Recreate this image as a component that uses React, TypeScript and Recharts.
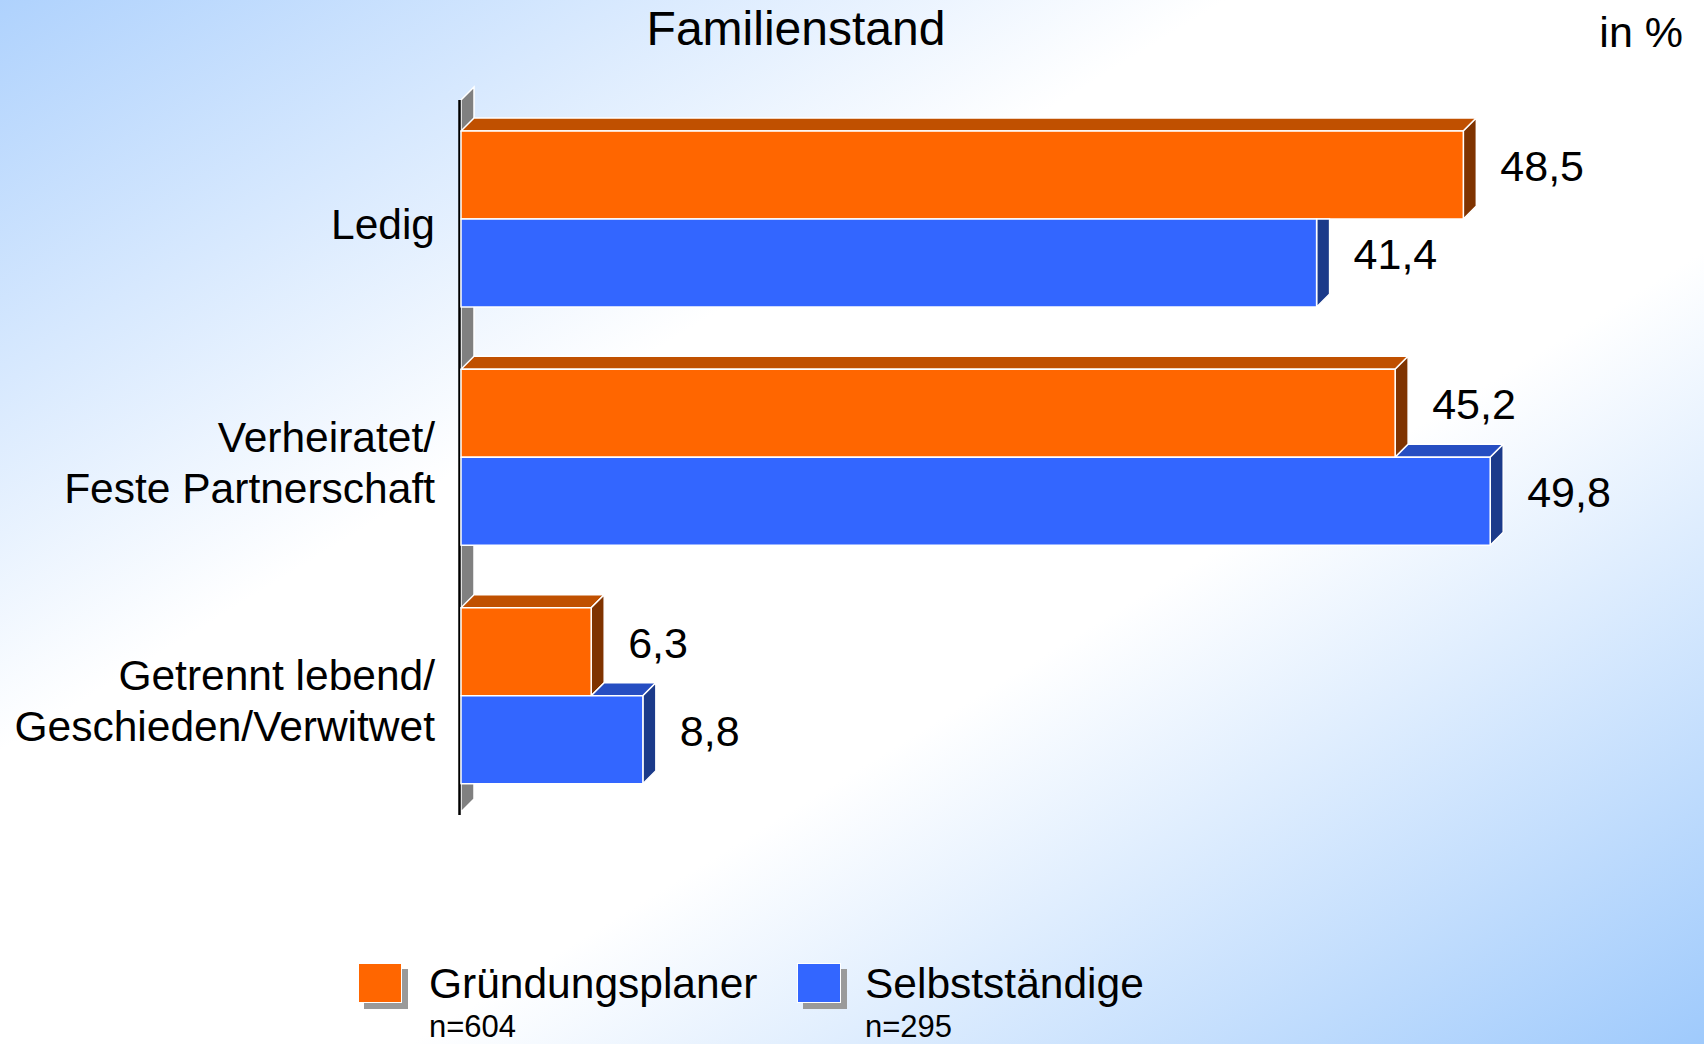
import { Bar, BarChart, Customized, LabelList, Legend, XAxis, YAxis } from "recharts";

const categories = [
  "Ledig",
  "Verheiratet/\nFeste Partnerschaft",
  "Getrennt lebend/\nGeschieden/Verwitwet",
];
const gruendungsplaner = [48.5, 45.2, 6.3];
const selbststaendige = [41.4, 49.8, 8.8];
const seriesNames = ["Gründungsplaner", "Selbstständige"];
const sampleSizes = ["n=604", "n=295"];

const data = categories.map((name, i) => ({
  name,
  gp: gruendungsplaner[i],
  ss: selbststaendige[i],
}));

const FONT = '"Liberation Sans", Arial, Helvetica, sans-serif';
const D = 13; // 3d depth
const PLOT_LEFT = 461;
const PLOT_TOP = 100;
const PLOT_BOTTOM = 815;

const ORANGE = { front: "#ff6600", top: "#c05000", side: "#7f3300" };
const BLUE = { front: "#3366ff", top: "#264ec2", side: "#1b3a8a" };

const pts = (arr: number[][]) => arr.map((p) => p.join(",")).join(" ");

const OrangeShape = (props: any) => {
  const { x, y, width: w, height: h } = props;
  return (
    <g stroke="#fff" strokeWidth={1.5} strokeLinejoin="round">
      <polygon
        points={pts([[x, y], [x + D, y - D], [x + w + D, y - D], [x + w, y]])}
        fill={ORANGE.top}
      />
      <polygon
        points={pts([[x + w, y], [x + w + D, y - D], [x + w + D, y + h - D], [x + w, y + h]])}
        fill={ORANGE.side}
      />
      <rect x={x} y={y} width={w} height={h} fill={ORANGE.front} />
    </g>
  );
};

// blue bar sits under the orange one, so hide what the orange box covers
const BlueShape = (props: any) => {
  const { x, y, width: w, height: h, payload } = props;
  const ow = (w * payload.gp) / payload.ss;
  const longer = ow < w;
  return (
    <g stroke="#fff" strokeWidth={1.5} strokeLinejoin="round">
      {longer && (
        <polygon
          points={pts([[x + ow, y], [x + ow + D, y - D], [x + w + D, y - D], [x + w, y]])}
          fill={BLUE.top}
        />
      )}
      <polygon
        points={
          longer
            ? pts([[x + w, y], [x + w + D, y - D], [x + w + D, y + h - D], [x + w, y + h]])
            : pts([[x + w, y], [x + w + D, y], [x + w + D, y + h - D], [x + w, y + h]])
        }
        fill={BLUE.side}
      />
      <rect x={x} y={y} width={w} height={h} fill={BLUE.front} />
    </g>
  );
};

const ValueLabel = (props: any) => {
  const { x, y, width, height, value } = props;
  return (
    <text
      x={x + width + D + 24}
      y={y + height / 2 - 9}
      dominantBaseline="central"
      fontFamily={FONT}
      fontSize={43}
      fill="#000"
    >
      {Number(value).toFixed(1).replace(".", ",")}
    </text>
  );
};

const CategoryTick = (props: any) => {
  const { x, y, payload } = props;
  const lines = String(payload.value).split("\n");
  return (
    <g>
      {lines.map((line, i) => (
        <text
          key={i}
          x={x}
          y={y + 5 + (i - (lines.length - 1) / 2) * 51}
          textAnchor="end"
          dominantBaseline="central"
          fontFamily={FONT}
          fontSize={42.5}
          fill="#000"
        >
          {line}
        </text>
      ))}
    </g>
  );
};

const Wall = () => (
  <g>
    <polygon
      points={pts([
        [PLOT_LEFT, PLOT_TOP],
        [PLOT_LEFT + D, PLOT_TOP - D],
        [PLOT_LEFT + D, PLOT_BOTTOM - 16],
        [PLOT_LEFT, PLOT_BOTTOM - 3],
      ])}
      fill="#808080"
      stroke="#fff"
      strokeWidth={1.5}
    />
    <line
      x1={PLOT_LEFT - 1.5}
      y1={PLOT_TOP}
      x2={PLOT_LEFT - 1.5}
      y2={PLOT_BOTTOM}
      stroke="#000"
      strokeWidth={2.5}
    />
  </g>
);

const legendX = [358, 797];
const legendTextX = [429, 865];

const LegendContent = (props: any) => {
  const { payload } = props;
  return (
    <div style={{ position: "relative", width: 1704, height: 1044 }}>
      {(payload || []).map((entry: any, i: number) => (
        <div key={entry.value}>
          <div
            style={{
              position: "absolute",
              left: legendX[i] + 6,
              top: 969,
              width: 44,
              height: 40,
              background: "#9a9a9a",
            }}
          />
          <div
            style={{
              position: "absolute",
              left: legendX[i],
              top: 963,
              width: 44,
              height: 40,
              boxSizing: "border-box",
              border: "1.5px solid #fff",
              background: entry.color,
            }}
          />
          <div
            style={{
              position: "absolute",
              left: legendTextX[i],
              top: 963,
              fontFamily: FONT,
              fontSize: 42.5,
              lineHeight: 1,
              color: "#000",
              whiteSpace: "nowrap",
            }}
          >
            {entry.value}
          </div>
          <div
            style={{
              position: "absolute",
              left: legendTextX[i],
              top: 1011,
              fontFamily: FONT,
              fontSize: 31,
              lineHeight: 1,
              color: "#000",
              whiteSpace: "nowrap",
            }}
          >
            {sampleSizes[i]}
          </div>
        </div>
      ))}
    </div>
  );
};

export default function App() {
  return (
    <div
      style={{
        position: "absolute",
        left: 0,
        top: 0,
        width: 1704,
        height: 1044,
        overflow: "hidden",
        background:
          "linear-gradient(to bottom right, #afd2fd 0%, #ffffff 36%, #ffffff 62%, #9fcafc 100%)",
      }}
    >
      <div
        style={{
          position: "absolute",
          left: 0,
          width: 1592,
          top: 5,
          textAlign: "center",
          fontFamily: FONT,
          fontSize: 48,
          lineHeight: 1,
          color: "#000",
        }}
      >
        Familienstand
      </div>
      <div
        style={{
          position: "absolute",
          right: 21,
          top: 11,
          fontFamily: FONT,
          fontSize: 43,
          lineHeight: 1,
          color: "#000",
        }}
      >
        in %
      </div>
      <BarChart
        width={1704}
        height={1044}
        layout="vertical"
        data={data}
        margin={{ top: PLOT_TOP, right: 3, bottom: 1044 - PLOT_BOTTOM, left: 0 }}
        barGap={0}
        barSize={88}
      >
        <XAxis type="number" domain={[0, 60]} hide />
        <YAxis
          type="category"
          dataKey="name"
          width={PLOT_LEFT}
          axisLine={false}
          tickLine={false}
          tickSize={0}
          tickMargin={26}
          interval={0}
          tick={CategoryTick}
        />
        <Customized component={Wall} />
        <Legend
          layout="horizontal"
          verticalAlign="middle"
          align="center"
          wrapperStyle={{ position: "absolute", left: 0, top: 0, width: 1704, height: 1044, pointerEvents: "none" }}
          content={LegendContent}
        />
        <Bar
          dataKey="gp"
          name={seriesNames[0]}
          fill={ORANGE.front}
          shape={OrangeShape}
          isAnimationActive={false}
        >
          <LabelList dataKey="gp" content={ValueLabel} />
        </Bar>
        <Bar
          dataKey="ss"
          name={seriesNames[1]}
          fill={BLUE.front}
          shape={BlueShape}
          isAnimationActive={false}
        >
          <LabelList dataKey="ss" content={ValueLabel} />
        </Bar>
      </BarChart>
    </div>
  );
}
